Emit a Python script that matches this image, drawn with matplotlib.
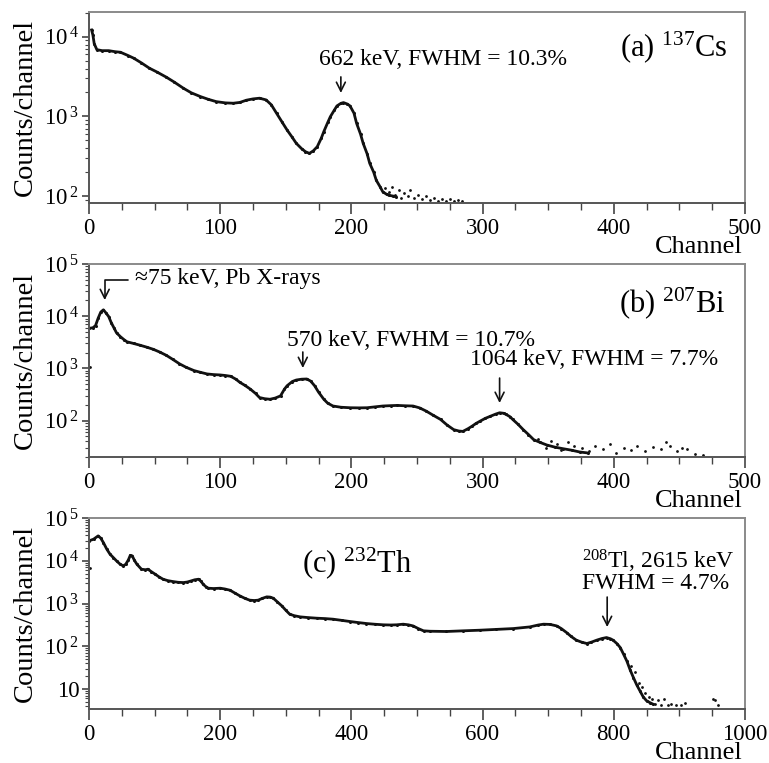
import numpy as np
import matplotlib
matplotlib.use('Agg')
import matplotlib.pyplot as plt
from matplotlib.ticker import LogLocator, FuncFormatter, MultipleLocator, NullFormatter

plt.rcParams['font.family'] = ['Liberation Serif', 'DejaVu Serif']
plt.rcParams['mathtext.fontset'] = 'custom'
plt.rcParams['mathtext.rm'] = 'Liberation Serif'

# (a) 137Cs spectrum
ch_a = [2, 3, 4, 6, 10, 15, 20, 24, 30, 34, 40, 46, 52, 59, 65, 72, 78, 85, 91, 97,
        104, 110, 115, 120, 125, 130, 135, 139, 143, 147, 151, 155, 158, 162, 165, 168,
        171, 174, 177, 179, 182, 184, 187, 189, 192, 194, 197, 199, 202, 204, 207, 209,
        212, 214, 217, 219, 222, 224, 227, 229, 232, 234]
cnt_a = [12200, 10500, 8200, 6900, 6700, 6700, 6500, 6400, 5800, 5400, 4700, 4040, 3600,
         3110, 2700, 2260, 1980, 1775, 1640, 1535, 1480, 1466, 1500, 1600, 1660, 1695,
         1614, 1400, 1096, 860, 676, 545, 460, 395, 361, 344, 370, 417, 530, 645, 840,
         994, 1200, 1355, 1460, 1493, 1430, 1355, 1100, 820, 600, 460, 340, 258, 200,
         158, 130, 113, 105, 102, 100, 98]
tail_ch_a = [226, 229, 231, 233, 236, 238, 240, 243, 245, 248, 251, 254, 257, 260, 263,
             266, 269, 272, 275, 278, 281, 284]
tail_cnt_a = [125, 112, 130, 104, 118, 96, 110, 100, 120, 94, 104, 92, 99, 89, 96, 88,
              93, 87, 91, 86, 90, 88]

# (b) 207Bi spectrum
ch_b = [0, 3, 5, 7, 9, 11, 13, 15, 17, 19, 21, 24, 27, 29, 34, 39, 44, 49, 54, 59, 64,
        69, 74, 80, 85, 90, 95, 100, 104, 108, 112, 115, 119, 123, 127, 130, 134, 138,
        142, 146, 149, 151, 155, 158, 162, 166, 169, 172, 175, 179, 182, 186, 192, 199,
        206, 212, 218, 224, 230, 235, 241, 247, 252, 257, 262, 268, 273, 278, 282, 285,
        289, 292, 295, 298, 302, 306, 310, 313, 316, 318, 321, 323, 327, 331, 335, 339,
        344, 349, 355, 361, 368, 374, 380]
cnt_b = [5850, 6000, 6600, 9150, 12000, 13250, 11500, 9860, 7500, 6000, 4800, 4040, 3500,
         3230, 3000, 2775, 2550, 2320, 2050, 1775, 1480, 1222, 1050, 908, 840, 782, 760,
         748, 730, 705, 620, 540, 470, 400, 330, 276, 262, 256, 270, 297, 400, 464, 560,
         598, 620, 626, 570, 464, 350, 256, 215, 190, 180, 176, 175, 176, 183, 190, 193,
         195, 192, 190, 175, 152, 128, 105, 82, 67, 63, 62, 70, 78, 88, 97, 110, 121, 133,
         141, 138, 131, 118, 105, 85, 67, 54, 43, 38, 34, 31, 29, 27, 25, 24]
tail_ch_b = [1, 342, 348, 352, 357, 360, 365, 370, 376, 381, 386, 392, 397, 402, 408, 413,
             418, 424, 430, 436, 440, 443, 448, 452, 456, 462, 468]
tail_cnt_b = [1050, 45, 30, 40, 35, 27, 38, 33, 30, 26, 32, 28, 35, 24, 30, 27, 33, 26,
              31, 28, 38, 33, 26, 30, 28, 23, 22]

# (c) 232Th spectrum
ch_c = [0, 7, 14, 18, 22, 27, 32, 37, 42, 47, 52, 56, 60, 63, 66, 69, 73, 80, 86, 90, 95,
        101, 107, 113, 120, 128, 136, 144, 150, 156, 161, 167, 171, 174, 178, 182, 190,
        200, 207, 215, 222, 230, 238, 245, 252, 258, 264, 271, 276, 281, 287, 294, 300,
        306, 313, 322, 334, 347, 360, 372, 385, 398, 410, 423, 436, 449, 460, 469, 479,
        487, 494, 502, 510, 520, 545, 570, 596, 620, 647, 672, 685, 693, 703, 713, 720,
        728, 735, 743, 751, 759, 766, 774, 782, 789, 795, 799, 805, 810, 815, 820, 825,
        830, 835, 840, 845, 850, 855, 860]
cnt_c = [29400, 32200, 38500, 34000, 26800, 19000, 14400, 12000, 10000, 8500, 7640, 8300,
         10500, 13500, 13100, 10500, 8360, 6380, 6200, 6380, 5600, 4870, 4200, 3720, 3450,
         3280, 3150, 3105, 3200, 3405, 3600, 3720, 3300, 2845, 2500, 2290, 2250, 2290,
         2200, 2055, 1780, 1514, 1320, 1202, 1180, 1202, 1320, 1436, 1420, 1336, 1100,
         883, 700, 564, 520, 488, 470, 455, 445, 431, 405, 380, 360, 341, 328, 318, 315,
         318, 329, 318, 300, 260, 230, 225, 222, 230, 238, 248, 260, 284, 315, 329, 325,
         300, 260, 210, 170, 139, 125, 116, 125, 139, 152, 160, 150, 139, 115, 93, 65, 45,
         28, 18.5, 12.5, 9, 6.5, 5.3, 4.8, 4.4]
tail_ch_c = [1, 826, 832, 838, 843, 848, 853, 858, 863, 868, 872, 877, 882, 888, 895, 902,
             909, 951, 955, 959]
tail_cnt_c = [6900, 35, 25, 14, 11, 8, 6.5, 5.8, 4.5, 5.5, 4.2, 5.9, 4.3, 4.4, 4.3, 4.3,
              4.8, 5.8, 5.5, 4.2]


def log_fmt(v, pos):
    e = int(round(np.log10(v)))
    if e == 1:
        return '10'
    return r'$\mathregular{10^{\,%d}}$' % e


fig = plt.figure(figsize=(7.69, 7.63), dpi=100)
L, W = 0.1157, 0.853
ax_a = fig.add_axes([L, 0.734, W, 0.2503])
ax_b = fig.add_axes([L, 0.401, W, 0.253])
ax_c = fig.add_axes([L, 0.0708, W, 0.2503])

panels = [
    (ax_a, ch_a, cnt_a, tail_ch_a, tail_cnt_a, (0, 500), (82, 2.05e4), 100, 25),
    (ax_b, ch_b, cnt_b, tail_ch_b, tail_cnt_b, (0, 500), (20, 1e5), 100, 25),
    (ax_c, ch_c, cnt_c, tail_ch_c, tail_cnt_c, (0, 1000), (3.4, 1.01e5), 200, 50),
]

for ax, ch, cnt, tch, tcnt, xl, yl, maj, mnr in panels:
    ax.plot(ch, cnt, '-', color='#111111', lw=2.0, marker='o', ms=2.2, mew=0)
    ax.plot(tch, tcnt, 'o', color='#111111', ms=2.0, mew=0, ls='none')
    ax.set_yscale('log')
    ax.set_xlim(*xl)
    ax.set_ylim(*yl)
    ax.xaxis.set_major_locator(MultipleLocator(maj))
    ax.xaxis.set_minor_locator(MultipleLocator(mnr))
    ax.yaxis.set_major_locator(LogLocator(base=10, numticks=12))
    ax.yaxis.set_major_formatter(FuncFormatter(log_fmt))
    ax.yaxis.set_minor_locator(LogLocator(base=10, subs=np.arange(2, 10), numticks=12))
    ax.yaxis.set_minor_formatter(NullFormatter())
    ax.tick_params(axis='both', which='both', direction='out', top=False, right=False,
                   labelsize=16.5, color='#444444')
    ax.tick_params(axis='x', which='major', length=8, width=1.2, pad=3)
    ax.tick_params(axis='x', which='minor', length=5, width=1.0)
    ax.tick_params(axis='y', which='major', length=5, width=1.2, pad=2)
    ax.tick_params(axis='y', which='minor', length=3, width=0.8)
    for s in ['top', 'right']:
        ax.spines[s].set_color('#8a8a8a')
    for s in ['left', 'bottom']:
        ax.spines[s].set_color('#555555')
    for s in ax.spines.values():
        s.set_linewidth(1.4)
    ax.set_ylabel('Counts/channel', fontsize=20.5)
    ax.yaxis.set_label_coords(-0.078, 0.5)
    ax.annotate('Channel', xy=(1, 0), xycoords='axes fraction', xytext=(-2, -24),
                textcoords='offset points', ha='right', va='top', fontsize=19)

arrow = dict(arrowstyle='->', color='#111111', lw=1.2, mutation_scale=16,
             shrinkA=0, shrinkB=0)
fs = 17

# (a)
ax_a.text(0.974, 0.817, r'(a) $\mathregular{^{137}}$Cs', transform=ax_a.transAxes,
          ha='right', va='center', fontsize=22)
ax_a.text(0.351, 0.749, '662 keV, FWHM = 10.3%', transform=ax_a.transAxes,
          ha='left', va='center', fontsize=fs)
ax_a.annotate('', xy=(192, 0.576), xycoords=('data', 'axes fraction'),
              xytext=(192, 0.660), textcoords=('data', 'axes fraction'), arrowprops=arrow)

# (b)
ax_b.text(0.970, 0.798, r'(b) $\mathregular{^{207}}$Bi', transform=ax_b.transAxes,
          ha='right', va='center', fontsize=22)
ax_b.text(0.070, 0.927, '\u224875 keV, Pb X-rays', transform=ax_b.transAxes,
          ha='left', va='center', fontsize=fs)
ax_b.annotate('', xy=(12, 0.813), xycoords=('data', 'axes fraction'),
              xytext=(30, 0.917), textcoords=('data', 'axes fraction'),
              arrowprops=dict(arrow, connectionstyle='angle,angleA=0,angleB=90,rad=0'))
ax_b.text(0.302, 0.606, '570 keV, FWHM = 10.7%', transform=ax_b.transAxes,
          ha='left', va='center', fontsize=fs)
ax_b.annotate('', xy=(163, 0.461), xycoords=('data', 'axes fraction'),
              xytext=(163, 0.544), textcoords=('data', 'axes fraction'), arrowprops=arrow)
ax_b.text(0.581, 0.503, '1064 keV, FWHM = 7.7%', transform=ax_b.transAxes,
          ha='left', va='center', fontsize=fs)
ax_b.annotate('', xy=(313, 0.280), xycoords=('data', 'axes fraction'),
              xytext=(313, 0.409), textcoords=('data', 'axes fraction'), arrowprops=arrow)

# (c)
ax_c.text(0.325, 0.764, r'(c) $\mathregular{^{232}}$Th', transform=ax_c.transAxes,
          ha='left', va='center', fontsize=22)
ax_c.text(0.751, 0.772, r'$\mathregular{^{208}}$Tl, 2615 keV', transform=ax_c.transAxes,
          ha='left', va='center', fontsize=fs)
ax_c.text(0.751, 0.655, 'FWHM = 4.7%', transform=ax_c.transAxes,
          ha='left', va='center', fontsize=fs)
ax_c.annotate('', xy=(790, 0.429), xycoords=('data', 'axes fraction'),
              xytext=(790, 0.586), textcoords=('data', 'axes fraction'), arrowprops=arrow)

fig.savefig('out.png', dpi=100)
